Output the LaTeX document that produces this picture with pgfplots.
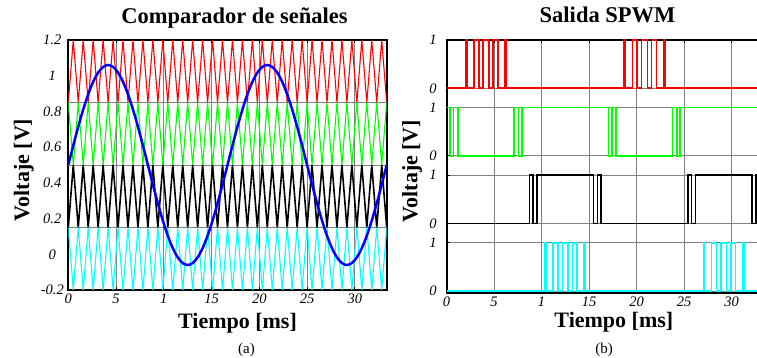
\documentclass[border=0pt]{standalone}
\usepackage{fontspec}
\setmainfont{Liberation Serif}
\usepackage{pgfplots}
\usepackage{pgfplotstable}
\pgfplotsset{compat=1.18}
\definecolor{lime}{RGB}{0,255,0}
\definecolor{aqua}{RGB}{0,255,255}
\definecolor{pureblue}{RGB}{0,0,255}
\definecolor{purered}{RGB}{255,0,0}
\definecolor{gridgray}{RGB}{128,128,128}

\pgfplotstableread{
t r g b c s
0 0.85 0.85 0.15 0.15 0.5
0.5208 1.2 0.5 0.5 -0.2 0.6093
1.0417 0.85 0.85 0.15 0.15 0.7143
1.5625 1.2 0.5 0.5 -0.2 0.8111
2.0833 0.85 0.85 0.15 0.15 0.8960
2.6042 1.2 0.5 0.5 -0.2 0.9656
3.125 0.85 0.85 0.15 0.15 1.0174
3.6458 1.2 0.5 0.5 -0.2 1.0492
4.1667 0.85 0.85 0.15 0.15 1.06
4.6875 1.2 0.5 0.5 -0.2 1.0492
5.2083 0.85 0.85 0.15 0.15 1.0174
5.7292 1.2 0.5 0.5 -0.2 0.9656
6.25 0.85 0.85 0.15 0.15 0.8960
6.7708 1.2 0.5 0.5 -0.2 0.8111
7.2917 0.85 0.85 0.15 0.15 0.7143
7.8125 1.2 0.5 0.5 -0.2 0.6093
8.3333 0.85 0.85 0.15 0.15 0.5
8.8542 1.2 0.5 0.5 -0.2 0.3907
9.375 0.85 0.85 0.15 0.15 0.2857
9.8958 1.2 0.5 0.5 -0.2 0.1889
10.4167 0.85 0.85 0.15 0.15 0.1040
10.9375 1.2 0.5 0.5 -0.2 0.0344
11.4583 0.85 0.85 0.15 0.15 -0.0174
11.9792 1.2 0.5 0.5 -0.2 -0.0492
12.5 0.85 0.85 0.15 0.15 -0.06
13.0208 1.2 0.5 0.5 -0.2 -0.0492
13.5417 0.85 0.85 0.15 0.15 -0.0174
14.0625 1.2 0.5 0.5 -0.2 0.0344
14.5833 0.85 0.85 0.15 0.15 0.1040
15.1042 1.2 0.5 0.5 -0.2 0.1889
15.625 0.85 0.85 0.15 0.15 0.2857
16.1458 1.2 0.5 0.5 -0.2 0.3907
16.6667 0.85 0.85 0.15 0.15 0.5
17.1875 1.2 0.5 0.5 -0.2 0.6093
17.7083 0.85 0.85 0.15 0.15 0.7143
18.2292 1.2 0.5 0.5 -0.2 0.8111
18.75 0.85 0.85 0.15 0.15 0.8960
19.2708 1.2 0.5 0.5 -0.2 0.9656
19.7917 0.85 0.85 0.15 0.15 1.0174
20.3125 1.2 0.5 0.5 -0.2 1.0492
20.8333 0.85 0.85 0.15 0.15 1.06
21.3542 1.2 0.5 0.5 -0.2 1.0492
21.875 0.85 0.85 0.15 0.15 1.0174
22.3958 1.2 0.5 0.5 -0.2 0.9656
22.9167 0.85 0.85 0.15 0.15 0.8960
23.4375 1.2 0.5 0.5 -0.2 0.8111
23.9583 0.85 0.85 0.15 0.15 0.7143
24.4792 1.2 0.5 0.5 -0.2 0.6093
25 0.85 0.85 0.15 0.15 0.5
25.5208 1.2 0.5 0.5 -0.2 0.3907
26.0417 0.85 0.85 0.15 0.15 0.2857
26.5625 1.2 0.5 0.5 -0.2 0.1889
27.0833 0.85 0.85 0.15 0.15 0.1040
27.6042 1.2 0.5 0.5 -0.2 0.0344
28.125 0.85 0.85 0.15 0.15 -0.0174
28.6458 1.2 0.5 0.5 -0.2 -0.0492
29.1667 0.85 0.85 0.15 0.15 -0.06
29.6875 1.2 0.5 0.5 -0.2 -0.0492
30.2083 0.85 0.85 0.15 0.15 -0.0174
30.7292 1.2 0.5 0.5 -0.2 0.0344
31.25 0.85 0.85 0.15 0.15 0.1040
31.7708 1.2 0.5 0.5 -0.2 0.1889
32.2917 0.85 0.85 0.15 0.15 0.2857
32.8125 1.2 0.5 0.5 -0.2 0.3907
33.3333 0.85 0.85 0.15 0.15 0.5
}\carriers

\pgfplotsset{
  common/.style={
    scale only axis,
    xmin=0, xmax=33.3333,
    xtick={0,5,10,15,20,25,30},
    xticklabels={0,5,1,15,20,25,30},
    xmajorgrids,
    grid style={gridgray, line width=0.8pt},
    axis line style={black, line width=2pt},
    tick style={black, line width=0.8pt},
    major tick length=3pt,
    ticklabel style={font=\fontsize{14.5}{15}\selectfont\itshape},
    title style={font=\fontsize{22.5}{24}\selectfont\bfseries},
    label style={font=\fontsize{22}{24}\selectfont\bfseries},
    xlabel={Tiempo [ms]},
    ylabel={Voltaje [V]},
  }
}

\begin{document}
\begin{tikzpicture}
\useasboundingbox (0,0) rectangle (757pt,358pt);

% ---------- (a) Comparador de senales ----------
\begin{axis}[common,
  at={(68.3pt,68pt)}, anchor=south west,
  width=318.4pt, height=250pt,
  ymin=-0.2, ymax=1.2,
  ytick={-0.2,0,0.2,0.4,0.6,0.8,1,1.2},
  yticklabels={-0.2,0,0.2,0.4,0.6,0.8,1,1.2},
  ytick style={draw=none},
  yticklabel style={anchor=center, xshift=-16pt},
  extra y ticks={0.15,0.5,0.85},
  extra y tick labels={},
  extra y tick style={grid=major, major tick length=0pt},
  title={Comparador de señales},
  title style={at={(axis description cs:0.5,1)}, anchor=base, yshift=10pt, xshift=7pt},
  xlabel style={at={(axis description cs:0.5,0)}, anchor=base, yshift=-39pt, xshift=10pt},
  ylabel style={at={(axis description cs:-0.1234,0.48)}, anchor=base},
]
\addplot[purered, line width=1.1pt] table[x=t, y=r] {\carriers};
\addplot[lime, line width=1.1pt] table[x=t, y=g] {\carriers};
\addplot[black, line width=1.6pt] table[x=t, y=b] {\carriers};
\addplot[aqua, line width=1.1pt] table[x=t, y=c] {\carriers};
\addplot[pureblue, line width=2.5pt, smooth] table[x=t, y=s] {\carriers};
\end{axis}

% ---------- (b) Salida SPWM ----------
\begin{axis}[common,
  at={(446.5pt,65pt)}, anchor=south west,
  width=316.7pt, height=253pt,
  ymin=-0.04, ymax=5.2,
  ytick={0,1,1.4,2.4,2.8,3.8,4.2,5.2},
  yticklabels={0,1,0,1,0,1,0,1},
  ymajorgrids,
  yticklabel style={anchor=center, xshift=-13.5pt},
  title={Salida SPWM},
  title style={at={(axis description cs:0.5,1)}, anchor=base, yshift=11pt, xshift=2.7pt},
  xlabel style={at={(axis description cs:0.5,0)}, anchor=base, yshift=-35pt, xshift=9pt},
  ylabel style={at={(axis description cs:-0.0916,0.482)}, anchor=base},
]
\addplot[purered, line width=1.6pt] coordinates {
(0,4.2) (2.027,4.2) (2.027,5.2) (2.171,5.2) (2.171,4.2) (2.903,4.2) (2.903,5.2) (3.408,5.2) (3.408,4.2)
(3.860,4.2) (3.860,5.2) (4.474,5.2) (4.474,4.2) (4.925,4.2) (4.925,5.2) (5.430,5.2) (5.430,4.2)
(6.162,4.2) (6.162,5.2) (6.306,5.2) (6.306,4.2)
(18.694,4.2) (18.694,5.2) (18.838,5.2) (18.838,4.2) (19.570,4.2) (19.570,5.2) (20.075,5.2) (20.075,4.2)
(20.527,4.2) (20.527,5.2) (21.141,5.2) (21.141,4.2) (21.592,4.2) (21.592,5.2) (22.097,5.2) (22.097,4.2)
(22.829,4.2) (22.829,5.2) (22.973,5.2) (22.973,4.2) (33.333,4.2)
};
\addplot[lime, line width=1.6pt] coordinates {
(0,3.8) (0.396,3.8) (0.396,2.8) (0.757,2.8) (0.757,3.8) (1.198,3.8) (1.198,2.8)
(7.135,2.8) (7.135,3.8) (7.576,3.8) (7.576,2.8) (7.937,2.8) (7.937,3.8)
(17.063,3.8) (17.063,2.8) (17.424,2.8) (17.424,3.8) (17.865,3.8) (17.865,2.8)
(23.802,2.8) (23.802,3.8) (24.243,3.8) (24.243,2.8) (24.604,2.8) (24.604,3.8) (33.333,3.8)
};
\addplot[black, line width=1.4pt] coordinates {
(0,1.4) (8.730,1.4) (8.730,2.4) (9.089,2.4) (9.089,1.4) (9.529,1.4) (9.529,2.4)
(15.471,2.4) (15.471,1.4) (15.911,1.4) (15.911,2.4) (16.270,2.4) (16.270,1.4)
(25.397,1.4) (25.397,2.4) (25.756,2.4) (25.756,1.4) (26.196,1.4) (26.196,2.4)
(32.138,2.4) (32.138,1.4) (32.578,1.4) (32.578,2.4) (32.937,2.4) (32.937,1.4) (33.333,1.4)
};
\addplot[aqua, line width=1.6pt] coordinates {
(0,0) (10.361,0) (10.361,1) (10.505,1) (10.505,0) (11.236,0) (11.236,1) (11.742,1) (11.742,0)
(12.193,0) (12.193,1) (12.807,1) (12.807,0) (13.258,0) (13.258,1) (13.764,1) (13.764,0)
(14.495,0) (14.495,1) (14.639,1) (14.639,0)
(27.028,0) (27.028,1) (27.172,1) (27.172,0) (27.903,0) (27.903,1) (28.409,1) (28.409,0)
(28.860,0) (28.860,1) (29.474,1) (29.474,0) (29.925,0) (29.925,1) (30.431,1) (30.431,0)
(31.162,0) (31.162,1) (31.306,1) (31.306,0) (33.333,0)
};
\end{axis}

\node[font=\fontsize{15}{15}\selectfont, anchor=base] at (246.5pt,4pt) {(a)};
\node[font=\fontsize{15}{15}\selectfont, anchor=base] at (604pt,4pt) {(b)};
\end{tikzpicture}
\end{document}
